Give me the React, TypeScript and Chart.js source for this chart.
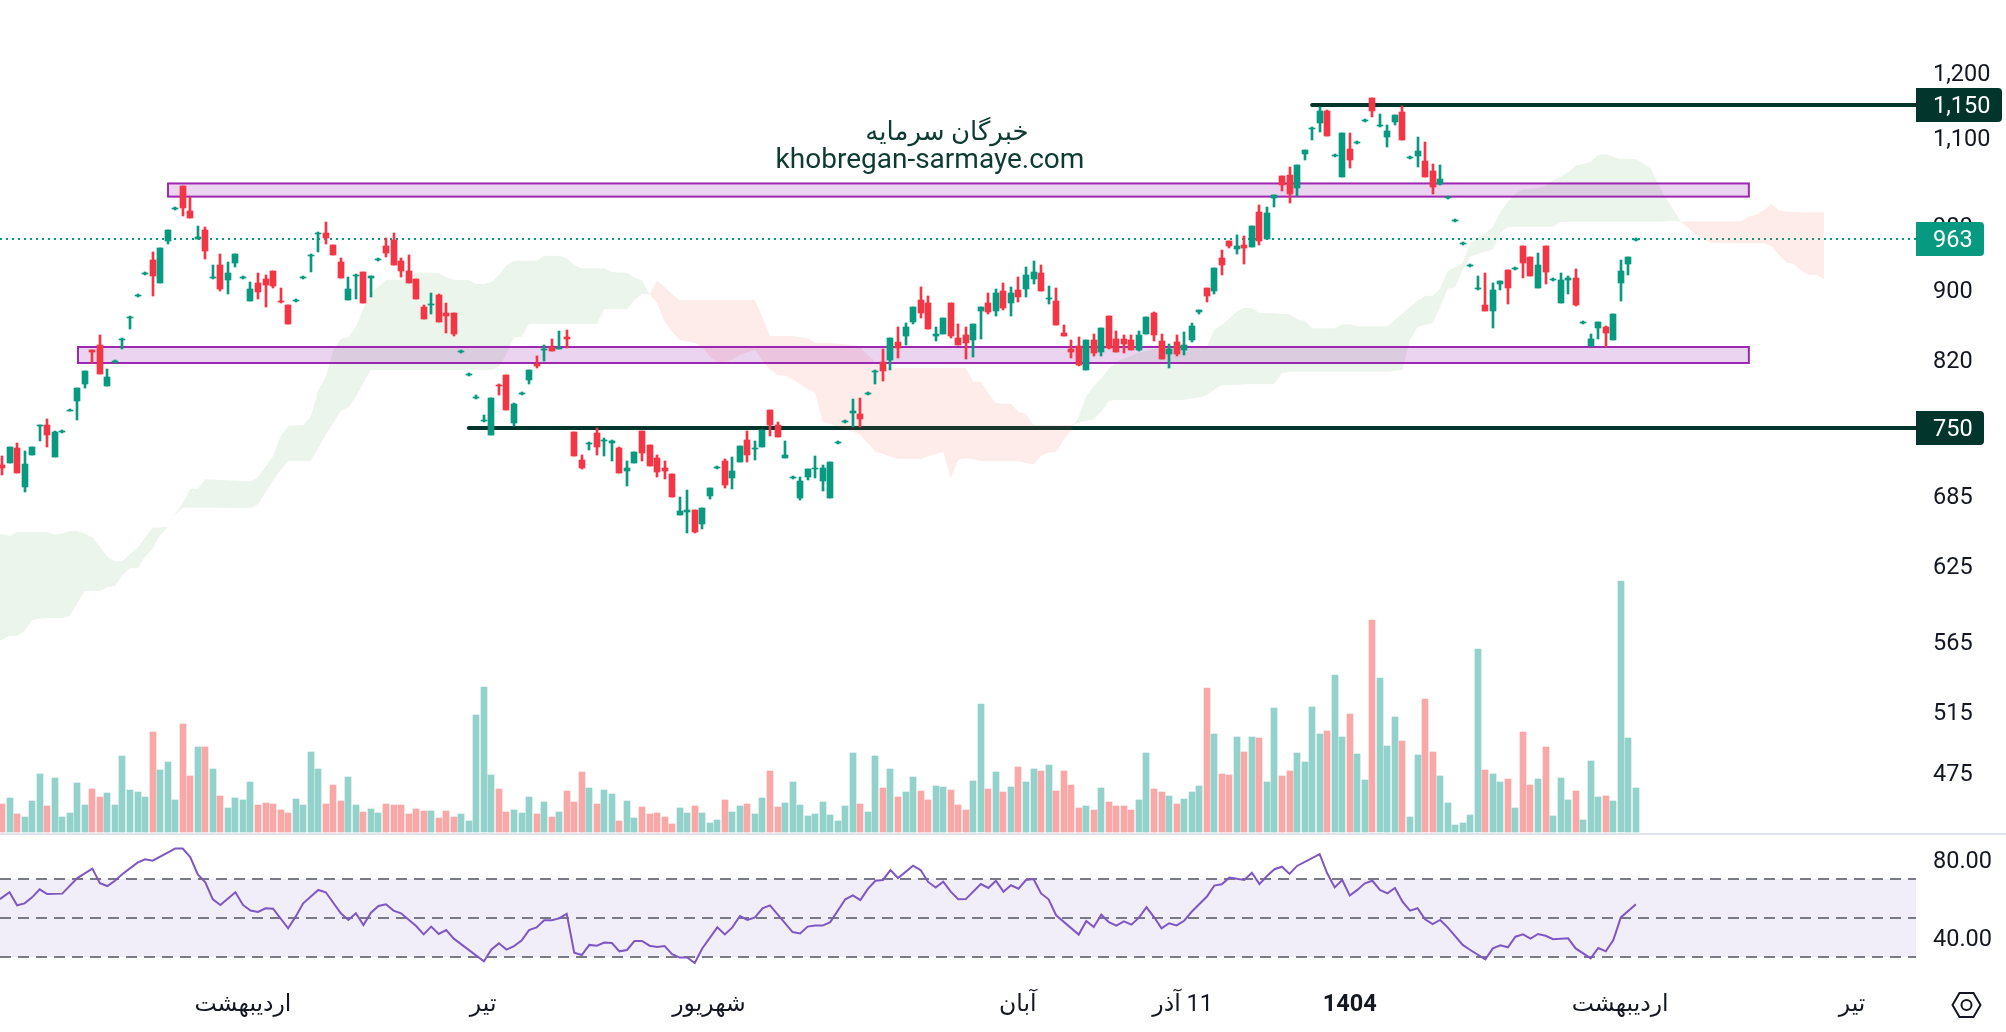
import { useEffect, useRef } from 'react'
import { Chart, registerables } from 'chart.js'

Chart.register(...registerables)

const opens = [
  713.8,715.7,730.1,693.3,723.3,751.6,752.6,721.4,745.6,767.6,777.8,795.5,832,837.6,793.4,819,843.1,867.9,893.5,919.9,
  937,909,960.8,1002.3,1033.3,999.7,963.3,974.9,915,930.9,912.6,933.3,915,887.6,909,913.8,923.5,887.6,883,887.6,
  915,942,969.8,971,955.8,934.5,888.8,917.4,922.3,915,937,954.6,962.1,935.8,923.5,913.8,880.6,883,894.7,873.6,
  873.6,829.8,805,780.9,757.5,743.6,794.4,804,755.5,785,799.7,816.7,831.3,835.3,833.1,846.5,745.6,718.5,733.9,744.6,
  737.7,734.9,730,708.1,715.7,746.6,732.9,720.5,711,705.4,668.2,670.9,672.6,660.4,685.2,711,717.6,701.6,716.6,738.7,
  729.1,731,768.6,752.6,720.5,701.6,683.4,702.6,710,698.9,683.4,734.9,756.5,764.6,763.6,785,808.2,818.9,821.1,840.9,
  847.6,863.3,888.8,885.3,847.6,849.8,885.3,845.3,848.7,843.1,875.9,885.3,875.9,899.4,885.3,900.6,901.8,913.8,921,889.2,
  887.6,850.9,833.1,836.4,810.3,843.1,829.8,870.2,844.2,844.2,843.1,832,849.8,873.6,842,827.6,840.9,832,843.1,874.8,
  903,899.4,939.5,960.8,950.8,955.8,953.3,998.4,963.4,1017,1047,1048.4,1030.3,1077.9,1114,1123,1140.9,1075.6,1045.6,1085,
  1093.7,1125.9,1160.7,1118.5,1102.3,1124.4,1139.4,1072.2,1075.1,1068,1053.9,1036,1017,986.6,957.1,929.6,901.8,883,875.9,907.8,
  924.7,926,954.5,940.7,903,954.5,912.6,885.3,912.6,915,862.2,836.4,856.6,857.7,843.1,909,932,962.1,
]
const highs = [
  722.4,731,734.9,727.2,731,752.6,759.5,746.6,747.6,769.6,791.3,809.2,832,848.7,811.4,821.1,845.3,870.2,895.9,922.3,
  947,952,974.9,1005,1033.3,1018.4,980.1,978.8,930.9,944.5,934.5,944.5,917.4,910.2,921.1,918.7,923.5,903,883,890,
  917.4,944.5,972.3,985.3,955.8,939.5,916.2,919.9,922.3,917.4,939.5,964.5,971,939.5,943.2,913.8,883,897,895.9,885.3,
  873.6,832,807.1,783,763.5,780.9,795.5,805,775.7,787.1,810.3,825.4,837.5,844.2,853.2,854.3,745.6,724,735.8,749.6,
  739.7,738.7,731,717.6,726.2,746.6,732.9,723.3,717.6,705.4,684.3,690.6,672.6,674.4,692.4,712.9,719.5,721.4,732,746.6,
  736.8,747.6,768.6,756.5,736.8,703.5,702.6,710,722.4,713.8,716.6,736.8,758.5,779.8,780.9,787.1,810.3,833.1,845.3,857.7,
  862.2,880.6,904.2,893.5,857.7,867.9,885.3,861,857.7,861,880.6,897,901.8,909,904.2,916.2,928.4,935.8,930.9,905.4,
  903,859.9,843.1,846.5,843.1,849.8,856.6,870.2,853.2,848.7,848.7,853.2,869,874.8,849.8,838.6,848.7,852,862.2,877.1,
  903,927.1,949.5,960.8,968.5,967.2,980.1,1007.6,1005,1021,1047,1059.5,1062.4,1083.6,1117,1147,1142.4,1078.4,1108.2,1108.2,
  1096.6,1128.9,1160.7,1136.4,1120,1134.9,1148.5,1075.1,1102.3,1095.1,1063.8,1062.4,1019.7,989.2,959.6,932,917.4,921,909,911.4,
  924.7,928.4,954.5,940.7,945.8,954.5,915,921,917.4,926,864.5,849.8,863.3,858.8,872.5,937,940.7,964.7,
]
const lows = [
  704.4,715.7,706.3,688.8,723.3,737.7,731,721.4,744.6,766.6,758.5,791.3,817.5,806.1,792.4,817.9,833.1,855.4,892.3,918.7,
  893.5,909,957.1,1001,993.1,990.5,963.3,938.2,913.8,899.4,895.9,928.4,913.8,887.6,890,880.6,903,885.3,861.1,886.4,
  913.8,922.3,947,957.1,943.2,915,888.8,890,885.3,892.3,935.8,940.7,930.9,916.2,908.2,890,866.8,872.5,863.3,850.6,
  847.2,828.7,803.9,779.8,756.5,743.6,783,768.6,751.9,784,795.5,812.4,820,830.9,833.1,834.2,723,710,728.1,723.3,
  722.4,717.6,706.3,694.3,715.7,717.6,712.9,702.6,700.7,684.3,668.2,652.5,652.5,656,682.5,710,692.4,691.5,716.6,716.6,
  718.5,731,742.6,740.7,720.5,700.7,681.6,699.8,701.6,689.7,683.4,733.9,755.5,750.6,750.6,784,794.5,797.9,810.3,823.3,
  837.5,861,867.9,855.4,842,849.8,845.3,837.5,822.2,824.4,844.2,872.5,870.2,877.1,870.2,886.4,892.3,907.8,899.4,884,
  859.9,847.6,823.3,814.5,810.3,825.4,825.4,833.1,829.8,828.7,832,830.9,849.8,842,822.2,812.4,825.4,826.5,840.9,872.5,
  886.4,895.9,918.6,952,944.5,932.1,953.3,955.8,963.4,1005,1026.4,1010.3,1019.7,1069.4,1098,1109.7,1103.8,1074.1,1045.6,1058.1,
  1092.2,1124.4,1131.9,1117,1087.9,1120,1098,1070.8,1059.5,1045.6,1022.4,1034.6,1015.7,985.3,955.8,928.4,900.6,875.9,856.6,900.6,
  884.1,924.7,915,917.4,903,907.8,911.4,885.3,895.9,881.8,861.1,836.4,844.2,835.3,843.1,887.6,918.6,960.8,
]
const closes = [
  711.3,731,706.3,714.7,731,752.6,743.6,745.6,746.6,768.6,791.3,809.2,829.8,806.1,802.9,820,844.2,869,894.7,921.1,
  917.4,952,974.9,1003.7,1003.7,990.5,965.9,948.2,916.2,901.8,921.1,944.5,916.2,901.8,898.2,906.6,905.4,886.4,861.1,888.8,
  916.2,943.2,971,964.5,943.2,915,901.8,918.7,885.3,917.4,938.2,945.7,930.9,923.5,908.2,890,866.8,884.1,863.3,870.2,
  849.5,830.9,806.1,781.9,758.5,780.9,793.4,768.6,774.7,786.1,810.3,814.5,833.1,830.9,834.2,844.2,723,711,734.9,731,
  738.7,736.8,706.3,711,726.2,725.3,712.9,707.3,709,684.3,671.7,672.6,653.4,674.4,692.4,711.9,695.2,709,732,723.3,
  730,747.6,753.5,740.7,723.3,702.6,698.9,710,711,711,716.6,735.8,757.5,766.6,759.5,786.1,809.2,809.2,845.3,834.2,
  857.7,880.6,873.6,855.4,849.8,867.9,847.6,837.5,839.8,861,880.6,874.8,897,879.4,897,892.3,918.6,922.3,899.4,891.2,
  859.9,847.6,829.8,815.6,843.1,828.7,856.6,834.2,829.8,838.6,832,848.7,869,848.7,822.2,833.1,827.6,837.5,858.8,877.1,
  893.5,927.1,930.9,954.5,954.5,952,980.1,960.8,997,1021,1034.6,1022.4,1062.4,1083.6,1115.5,1140.9,1103.8,1077,1108.2,1069.4,
  1095.1,1127.4,1140.9,1120,1111.1,1134.9,1098,1073.7,1082.2,1045.6,1031.9,1042.9,1018.4,987.9,958.3,930.9,903,875.9,900.6,911.4,
  903,927.2,933.3,917.4,930.9,922.3,913.8,912.6,915,883,863.3,844.2,863.3,851,872.5,923.5,940.7,963.4,
]
const volumes = [
  28,34,18,15,31,58,26,54,15,19,49,27,43,35,39,27,76,42,40,35,
  100,62,70,32,108,56,85,85,63,36,24,34,32,50,27,29,28,22,19,33,
  27,80,63,28,47,31,55,27,20,23,19,28,27,27,18,23,21,21,14,21,
  15,18,11,117,145,57,43,20,22,19,35,18,30,15,20,41,30,60,44,28,
  42,38,11,31,14,25,18,19,15,8,24,19,26,19,9,12,32,20,26,28,
  18,34,61,25,29,50,27,16,18,30,17,11,26,79,28,20,76,44,63,35,
  40,55,41,32,46,45,42,27,22,51,128,43,60,40,45,65,50,63,61,67,
  41,61,47,24,26,22,44,30,26,26,22,32,79,43,40,36,28,33,40,46,
  144,98,58,57,95,80,95,94,50,124,56,61,79,70,125,98,101,157,95,118,
  78,52,212,154,86,115,91,15,77,133,80,56,29,7,9,17,183,62,58,50,
  53,24,100,47,53,85,16,54,32,41,12,71,35,36,31,251,94,44,
]

const cloudIndex = [
  -0.27,1,2,3,4,5,6,7,8,9,10,11,12,13,14,15,16,17,18,19,20,21,22,23,24,25,26,27,33,34,36,37,38,40,41,
  42,43,44,45,46,47,48,49,50,51,53,54,55,58,59,60,62,63,64,65,66,67,68,69,70,71,72,74,75,76,77,79,80,81,83,84,85,86,
  87,88,89,90,92,93,94,95,96,97,98,100,101,102,103,104,105,107,108,109,110,111,113,114,115,116,117,118,119,120,122,124,125,126,
  127,128,129,130,131,132,134,135,136,137,138,139,140,141,142,
  143,144,145,146,147,148,149,151,153,155,157,158,159,160,161,162,163,164,165,166,167,168,169,170,171,
  172,173,174,177,178,179,180,184,186,187,188,189,190,191,192,193,194,195,197,198,199,200,201,202,204,205,206,207,208,209,211,212,213,215,216,217,218,219,220,221,222,223,
  224,225,226,227,230,231,232,233,234,235,236,237,238,239,240,241,242,
]
const spanA = [
  652.4,650.1,653.6,653.6,653.6,653.6,653.6,651.3,652.4,654.4,654.4,652.4,649,641,632.6,628.7,628.7,634.9,639.7,649,657.3,657.6,658.2,669.3,678.9,691.8,691.8,700.8,699,702.6,722.7,742.1,752,753,761.2,
  788.7,802.7,831.6,843.8,846.4,857.7,878.8,897.1,904.3,912.3,912.3,915.6,921.2,921.2,915.6,912.3,912.3,907.5,907.5,909.9,918.4,930.6,935.9,935.9,935.9,935.9,942,942,938.9,930.6,926.6,926.6,926.6,922,921.2,915.1,912.3,895.5,
  884.6,863.3,851.9,842.7,839.7,835.2,824.2,818.8,818.8,821.3,826,831.6,819.8,810.5,804.4,803.7,800,789.8,785.2,756.3,754,751.3,746.4,743.1,735,726.9,724.7,722.1,719.9,719.9,719.9,724.7,726.9,701.7,
  718.9,720.5,719.6,718,718,718,718,718,715.8,714.9,722.7,725.9,726.9,738.2,748.1,
  761.6,782.4,792.9,801,811.6,818.8,822.4,828.6,832.7,833.4,834.5,834.9,834.9,835.2,853.9,859.6,867.2,874.9,879.5,878.8,873.7,873,873,872.2,871.9,
  866,864.4,856,856,860.4,860.4,858.2,858.2,873,880.7,887.7,893.6,893.6,902.3,923.6,927.9,933.5,957.6,970.4,978.9,998.6,1011.9,1023.2,1028.5,1030.3,1033,1041.3,1045.8,1052,1061.2,1066.9,1076.4,1077.8,1070.3,1070.7,1070.7,1064.6,1056.6,1035.8,1016.5,1000.8,985,
  976.8,968.3,962.7,958.3,957.6,957.6,957.6,957.6,957.6,954.1,943,933.8,931.8,923.3,918.4,918.4,913.1,
]
const spanB = [
  566,569.5,569.5,573.5,581.6,582.9,583.4,583.4,583.4,585,594.8,604.5,604.5,604.5,607.4,608.5,617.4,623,623,632.6,639.1,651,658,668.4,675,675,675,675,674.7,678,699.5,709.4,718,718,718,
  730.1,743.1,754.7,767.1,770.5,781.7,795.7,809.8,809.8,809.8,809.8,809.8,809.8,809.8,809.8,809.8,809.8,809.8,809.8,809.8,813.4,827.2,845.7,845.7,860.7,860.7,860.7,860.7,860.7,860.7,860.7,860.7,877.6,877.6,877.6,888.5,895.5,895.5,
  911.5,904.3,895.5,888.5,888.5,888.5,888.5,888.5,888.5,888.5,888.5,888.5,868.4,847.2,847.2,847.2,847.2,844.6,839.7,839.7,839,838.6,837.1,834.5,826,818.8,815.2,812,812,812,812,812,812,812,
  812.3,812.3,797.4,797.4,785.2,774.9,774.2,766.4,764.1,753,753,753,753,753,753,
  755.4,757.3,758.7,766.4,777.6,778.3,778.3,778.3,778.3,778.3,778.3,780,781,783.4,788.7,794,794,794,794.7,794.7,794.7,794.7,795,806.3,808,
  808,808,808,808,808,808,808,808,809.8,842.7,857,859.6,861.5,880.7,901.9,903.6,924.5,941,947.1,950.1,971.2,978.9,978.9,978.9,978.9,978.9,978.9,984.6,985.4,985.4,985.4,985.4,985.4,985.4,985.4,985.4,985.4,985.4,985.4,985.9,986.7,985,
  985.9,985.9,985.9,985.9,985.9,986.4,992.6,994.7,1000.8,1008.8,1000.4,998.6,998.6,998,998,998,998,
]

const rsiIndex = [
  -0.27,1,2,3,4,5,6,8,10,12,13,14,15,16,18,19,20,22,23,24,25,26,27,28,29,31,32,33,34,35,36,38,39,40,42,43,45,46,47,48,49,50,51,52,53,55,56,57,58,59,60,64,65,66,67,68,69,70,71,72,73,74,75,76,77,78,79,80,81,82,83,84,85,86,87,88,89,90,91,92,93,95,96,97,98,99,100,101,102,105,106,107,108,109,110,112,113,114,115,116,117,118,119,121,122,123,124,125,126,127,128,130,131,
  132,133,134,135,136,137,138,139,140,143,144,145,146,147,148,149,150,151,152,153,154,155,156,157,158,160,161,162,163,165,166,167,168,169,170,171,172,175,176,177,178,179,180,181,182,183,184,185,186,187,188,189,190,191,192,194,195,197,198,199,200,201,202,203,204,205,206,208,209,211,212,213,214,215,217,
]
const rsiValues = [
  59.7,63.2,56.5,57.5,60.6,64.7,62.3,62.5,70.5,75.3,67.8,66.4,69.1,72.6,78.4,80.1,79.4,83.5,85.6,85.6,81.2,72.4,68.3,59.6,56.7,63.2,56.7,53.8,53.1,55,54.8,44.7,50.7,57.5,64.4,63.2,52.4,49,52.4,46.4,52.7,56.2,57,53.8,52.4,45.9,41.6,45.6,41.8,43.8,39.4,27.8,33.9,37,33.8,35.6,38.4,43.8,45.2,48.8,48.8,49.8,52.1,32.2,31,36.2,35.8,37.4,37.2,32.9,33.6,38.2,38.2,35.8,35.1,35.6,31.5,29.7,29.8,26.9,34.4,45.2,41.6,45.2,51,49,50.3,55,56.5,42.8,42.1,45.6,46.1,46.1,47.9,59.6,61.6,59.2,64.9,69.1,69.5,74.6,70.5,76.8,74.6,68.5,65.6,68.6,63.5,59.6,59.7,67.4,65.4,
  69.1,63.5,66.8,65,69.5,70,62.6,59.6,51.4,41.5,48.5,45.4,51.7,47.9,46.1,48.3,46.6,50.2,55.5,50.5,44.7,47.3,46.2,48.6,53.2,60.9,66.6,67.3,70.7,69.5,73.2,67.4,71.5,75,76.3,72.6,76.7,82.8,72.9,65.7,69.5,61.5,64.4,67.8,69.1,64.4,62.6,65.4,58.4,53.8,55,49.3,46.9,49,45.2,36.2,33.6,28.8,34.4,36,35,40.4,41.6,39.4,41.8,40.9,39.1,39.6,34.4,29.3,34.6,32.9,38.7,50.3,57,
]

const priceTicks = [1200, 1100, 980, 900, 820, 685, 625, 565, 515, 475]
const priceLevels = [1150, 750]
const priceLineStarts = [174, 62]
const lastPrice = 963

const zoneStarts = [22.05, 10.09]
const zoneEnds = [232, 232]
const zoneHighs = [1036.6, 834.9]
const zoneLows = [1018.7, 817.4]

const rsiLevels = [70, 50, 30]
const rsiTicks = [80, 40]

const xTickValues = [32, 63.9, 93.9, 134.9, 156.8, 179, 214.9, 245.7]
const xTickLabels = ['اردیبهشت', 'تیر', 'شهریور', 'آبان', 'آذر\u200E 11', '1404', 'اردیبهشت', 'تیر']

const TITLE_FA = 'خبرگان سرمایه'
const TITLE_EN = 'khobregan-sarmaye.com'

const FONT = 'Roboto, "DejaVu Sans", sans-serif'
const GREEN = '#089981'
const RED = '#f23645'
const DARK = '#02362c'
const TEXT = '#131722'

// x axis runs over bar numbers, one bar every 7.53px
const X_MIN = -0.266
const X_MAX = 254.2

// labels sit a touch under their price, as in the app's axis
const TICK_NUDGE = 0.9975

const isUp = (i: number) => closes[i] >= opens[i]

const overlay = {
  id: 'overlay',
  afterDatasetsUpdate(chart: any) {
    // candles sit on whole pixels
    chart.data.datasets.forEach((_: any, i: number) => {
      const meta = chart.getDatasetMeta(i)
      if (meta.type !== 'bar') return
      meta.data.forEach((el: any) => {
        const top = Math.round(el.y)
        const base = Math.round(el.base)
        el.x = Math.round(el.x)
        el.y = top
        el.base = base === top ? top + 1 : base
      })
    })
  },
  afterDatasetDraw(chart: any, args: any) {
    if (args.index !== 4) return
    const { ctx, scales } = chart
    zoneStarts.forEach((start, i) => {
      const x0 = scales.x.getPixelForValue(start)
      const x1 = scales.x.getPixelForValue(zoneEnds[i])
      const y0 = scales.price.getPixelForValue(zoneHighs[i])
      const y1 = scales.price.getPixelForValue(zoneLows[i])
      ctx.save()
      ctx.fillStyle = 'rgba(156,39,176,0.2)'
      ctx.strokeStyle = '#9c27b0'
      ctx.lineWidth = 2
      ctx.fillRect(x0, y0, x1 - x0, y1 - y0)
      ctx.strokeRect(x0, y0, x1 - x0, y1 - y0)
      ctx.restore()
    })
  },
  afterDraw(chart: any) {
    const { ctx, scales } = chart
    ctx.save()

    // pane separator
    ctx.fillStyle = '#e0e3eb'
    ctx.fillRect(0, 833, 2006, 2)

    // watermark
    ctx.fillStyle = '#0d3b33'
    ctx.textAlign = 'center'
    ctx.textBaseline = 'middle'
    ctx.font = `26px ${FONT}`
    ctx.fillText(TITLE_FA, 947, 133)
    ctx.font = `28px ${FONT}`
    ctx.fillText(TITLE_EN, 930, 161)

    // rsi labels
    ctx.textAlign = 'left'
    ctx.font = `23.5px ${FONT}`
    ctx.fillStyle = TEXT
    rsiTicks.forEach(v => ctx.fillText(v.toFixed(2), 1933, scales.osc.getPixelForValue(v) + 3))

    // price tags
    const tag = (value: number, w: number, color: string) => {
      const y = scales.price.getPixelForValue(value)
      ctx.fillStyle = color
      ctx.beginPath()
      ctx.roundRect(1916, Math.round(y) - 17, w, 34, [0, 4, 4, 0])
      ctx.fill()
      ctx.fillStyle = '#ffffff'
      ctx.fillText(value.toLocaleString('en-US'), 1933, y + 2)
    }
    tag(priceLevels[0], 86, DARK)
    tag(priceLevels[1], 68, DARK)
    tag(lastPrice, 68, GREEN)

    // settings icon
    const cx = 1966.5
    const cy = 1005
    ctx.strokeStyle = TEXT
    ctx.lineWidth = 2
    ctx.beginPath()
    ctx.moveTo(cx - 14, cy)
    ctx.lineTo(cx - 7, cy - 12)
    ctx.lineTo(cx + 7, cy - 12)
    ctx.lineTo(cx + 14, cy)
    ctx.lineTo(cx + 7, cy + 12)
    ctx.lineTo(cx - 7, cy + 12)
    ctx.closePath()
    ctx.stroke()
    ctx.beginPath()
    ctx.arc(cx, cy, 5, 0, Math.PI * 2)
    ctx.stroke()
    ctx.restore()
  },
}

export default function App() {
  const canvasRef = useRef<HTMLCanvasElement>(null)

  useEffect(() => {
    if (!canvasRef.current) return

    const hline = (y: number, from: number, extra: any) => ({
      type: 'line',
      data: [{ x: from, y }, { x: X_MAX, y }],
      pointRadius: 0,
      fill: false,
      ...extra,
    })
    const cloudLine = (values: number[], extra: any) => ({
      type: 'line',
      yAxisID: 'price',
      data: values.map((y, i) => ({ x: cloudIndex[i], y })),
      pointRadius: 0,
      borderWidth: 0,
      tension: 0,
      ...extra,
    })

    const chart = new Chart(canvasRef.current, {
      type: 'bar',
      data: {
        datasets: [
          {
            yAxisID: 'price',
            order: 0,
            barThickness: 6,
            grouped: false,
            borderWidth: 0,
            data: opens.map((o, i) => ({ x: i, y: [o, closes[i]] })),
            backgroundColor: opens.map((_, i) => (isUp(i) ? GREEN : RED)),
          },
          {
            yAxisID: 'price',
            order: 1,
            barThickness: 2,
            grouped: false,
            borderWidth: 0,
            data: lows.map((l, i) => ({ x: i, y: [l, highs[i]] })),
            backgroundColor: opens.map((_, i) => (isUp(i) ? GREEN : RED)),
          },
          {
            yAxisID: 'volume',
            order: 3,
            barThickness: 6,
            grouped: false,
            borderWidth: 0,
            data: volumes.map((v, i) => ({ x: i, y: v })),
            backgroundColor: volumes.map((_, i) => (isUp(i) ? '#93d2ca' : '#f7a8a7')),
          },
          cloudLine(spanA, {
            order: 5,
            fill: { target: 4, above: 'rgba(67,160,71,0.1)', below: 'rgba(244,67,54,0.1)' },
          }),
          cloudLine(spanB, { order: 4, fill: false }),
          hline(priceLevels[0], priceLineStarts[0], { yAxisID: 'price', order: 6, borderColor: DARK, borderWidth: 4, borderCapStyle: 'round' }),
          hline(priceLevels[1], priceLineStarts[1], { yAxisID: 'price', order: 6, borderColor: DARK, borderWidth: 4, borderCapStyle: 'round' }),
          hline(lastPrice, X_MIN, { yAxisID: 'price', order: 6, borderColor: GREEN, borderWidth: 2, borderDash: [2, 4] }),
          hline(rsiLevels[0], X_MIN, {
            yAxisID: 'osc', order: 3, borderColor: '#787b86', borderWidth: 2, borderDash: [11, 7],
            fill: { target: 10, above: 'rgba(126,87,194,0.1)', below: 'rgba(126,87,194,0.1)' },
          }),
          hline(rsiLevels[1], X_MIN, { yAxisID: 'osc', order: 2, borderColor: '#787b86', borderWidth: 2, borderDash: [11, 7] }),
          hline(rsiLevels[2], X_MIN, { yAxisID: 'osc', order: 2, borderColor: '#787b86', borderWidth: 2, borderDash: [11, 7] }),
          {
            type: 'line',
            yAxisID: 'osc',
            order: -1,
            data: rsiValues.map((y, i) => ({ x: rsiIndex[i], y })),
            borderColor: '#7e57c2',
            borderWidth: 2,
            pointRadius: 0,
            tension: 0,
            fill: false,
          },
        ] as any,
      },
      options: {
        animation: false,
        responsive: false,
        devicePixelRatio: 1,
        layout: { padding: 0, autoPadding: false },
        plugins: { legend: { display: false }, tooltip: { enabled: false } },
        scales: {
          x: {
            type: 'linear',
            min: X_MIN,
            max: X_MAX,
            bounds: 'data',
            offset: false,
            grid: { display: false, drawTicks: false },
            border: { display: false },
            afterBuildTicks: (s: any) => { s.ticks = xTickValues.map(value => ({ value })) },
            afterFit: (s: any) => { s.height = 57; s.paddingLeft = 0; s.paddingRight = 0 },
            ticks: {
              autoSkip: false,
              maxRotation: 0,
              padding: 16,
              color: TEXT,
              callback: (_: any, i: number) => xTickLabels[i],
              font: (ctx: any) => ({
                family: FONT,
                size: 23.5,
                weight: xTickLabels[ctx.index] === '1404' ? 'bold' : 'normal',
              }),
            },
          },
          price: {
            type: 'logarithmic',
            position: 'right',
            min: 363.7,
            max: 1321.4,
            bounds: 'data',
            grid: { display: false, drawTicks: false },
            border: { display: false },
            afterBuildTicks: (s: any) => { s.ticks = priceTicks.map(value => ({ value: value * TICK_NUDGE })) },
            afterFit: (s: any) => { s.width = 90; s.paddingTop = 0; s.paddingBottom = 0 },
            ticks: {
              autoSkip: false,
              padding: 17,
              color: TEXT,
              font: { family: FONT, size: 23.5 },
              callback: (_: any, i: number) => priceTicks[i].toLocaleString('en-US'),
            },
          },
          volume: { type: 'linear', axis: 'y', position: 'right', display: false, min: -143, max: 832, bounds: 'data' },
          osc: { type: 'linear', axis: 'y', position: 'right', display: false, min: 20.77, max: 520.77, bounds: 'data' },
        },
      } as any,
      plugins: [overlay],
    })
    return () => chart.destroy()
  }, [])

  return (
    <div style={{ position: 'absolute', left: 0, top: 0 }}>
      <canvas ref={canvasRef} width={2006} height={1032} style={{ display: 'block' }} />
    </div>
  )
}
